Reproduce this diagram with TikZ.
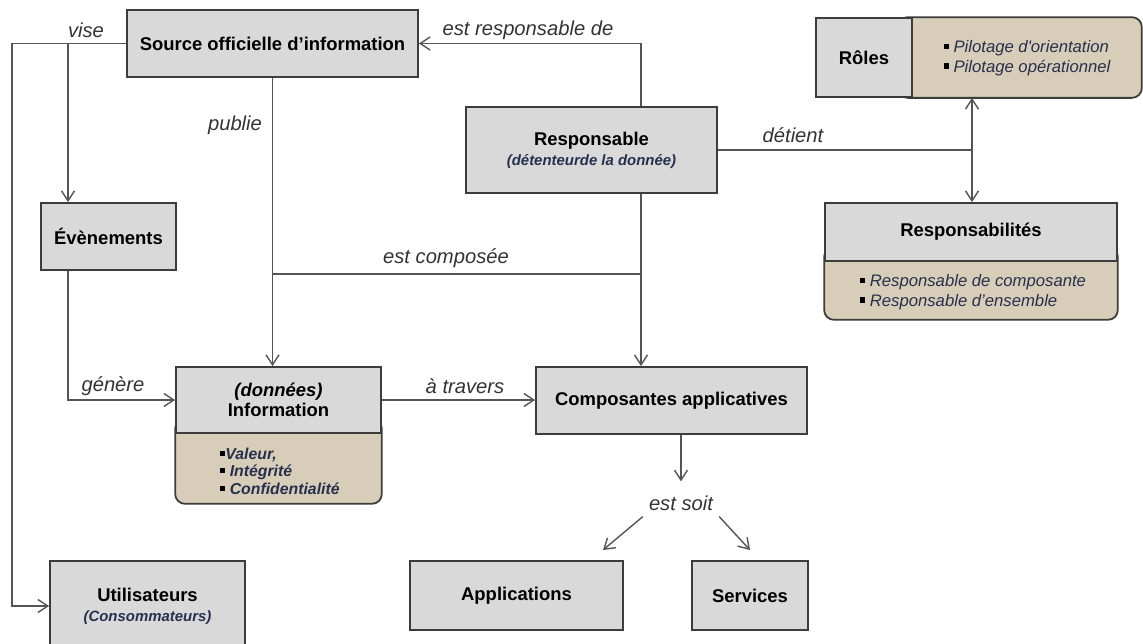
\documentclass[tikz,border=0pt]{standalone}
\usepackage{fontspec}
\setmainfont{Liberation Sans}
\usepackage{xcolor}
\usetikzlibrary{positioning}
\usetikzlibrary{calc}
\usetikzlibrary{backgrounds}
\usetikzlibrary{arrows.meta}

\definecolor{boxgray}{RGB}{217,217,217}
\definecolor{burlap}{RGB}{216,205,184}
\definecolor{edgegray}{RGB}{60,60,60}
\definecolor{linkgray}{RGB}{85,85,85}
\definecolor{inkblue}{RGB}{38,48,78}
\newcommand{\puce}{\textcolor{black}{\rule[0.4ex]{0.6ex}{0.6ex}}}
\newcommand{\souslib}[1]{{\fontsize{8.5}{10}\selectfont\bfseries\itshape\color{inkblue}#1}}

\begin{document}
\begin{tikzpicture}
  [ x=0.02cm, y=-0.02cm,
    box/.style={draw=edgegray, fill=boxgray, line width=1pt, align=center,
      inner sep=1mm, font=\fontsize{10.5}{11.5}\selectfont\bfseries},
    sack/.style={draw=edgegray, fill=burlap, line width=1pt, rounded corners=2mm},
    list/.style={align=left, inner sep=0pt, text=inkblue,
      font=\fontsize{9.5}{11.3}\selectfont\itshape},
    verb/.style={text=black!80, font=\fontsize{11.5}{13}\selectfont\itshape},
    lk/.style={draw=linkgray, line width=0.8pt},
    ld/.style={lk, -{Straight Barb[length=2mm,width=2.6mm]}}
  ]
  \useasboundingbox (0,0) rectangle (1143,643);

  \node (source) at (272.5,43.5) [box, minimum width=5.82cm, minimum height=1.34cm] {Source officielle d’information};
  \node (even)   at (108.5,236.5) [box, minimum width=2.7cm, minimum height=1.34cm] {Évènements};
  \node (resp)   at (591.5,150) [box, minimum width=5.02cm, minimum height=1.72cm] {Responsable\\\souslib{(détenteurde la donnée)}};
  \node (info)   at (278.5,400) [box, minimum width=4.1cm, minimum height=1.32cm] {{\itshape (données)}\\Information};
  \node (comp)   at (671.5,400.5) [box, minimum width=5.42cm, minimum height=1.34cm] {Composantes applicatives};
  \node (roles)  at (864,57.5) [box, minimum width=1.92cm, minimum height=1.58cm] {Rôles};
  \node (respb)  at (971,232) [box, minimum width=5.84cm, minimum height=1.16cm] {Responsabilités};
  \node (appl)   at (516.5,595.5) [box, minimum width=4.26cm, minimum height=1.38cm] {Applications};
  \node (serv)   at (750,595.5) [box, minimum width=2.32cm, minimum height=1.38cm] {Services};
  \node (util)   at (147.5,606) [box, minimum width=3.9cm, minimum height=1.8cm] {Utilisateurs\\\souslib{(Consommateurs)}};

  % lower / right parts of the compound boxes
  \begin{scope}[on background layer]
    \draw[sack] ([yshift=3mm]info.south west) rectangle ([yshift=-1.4cm]info.south east);
    \draw[sack] ([xshift=-3mm]roles.north east) rectangle ([xshift=4.58cm]roles.south east);
    \draw[sack] ([yshift=3mm]respb.south west) rectangle ([yshift=-1.16cm]respb.south east);
  \end{scope}

  \node (infoL)  at (280,471) [list, font=\fontsize{9}{9.9}\selectfont\bfseries\itshape] {\puce Valeur,\\\puce\ Intégrité\\\puce\ Confidentialité};
  \node (rolesL) at (1027,58) [list] {\puce\ Pilotage d\textquotesingle orientation\\\puce\ Pilotage opérationnel};
  \node (respbL) at (973,292) [list] {\puce\ Responsable de composante\\\puce\ Responsable d’ensemble};

  \node (vise)    at (86,30)   [verb] {vise};
  \node (publie)  at (235,125) [verb] {publie};
  \node (estresp) at (528,30)  [verb] {est responsable de};
  \node (detient) at (793,135) [verb] {détient};
  \node (compo)   at (446,258) [verb] {est composée};
  \node (genere)  at (113,386) [verb] {génère};
  \node (travers) at (465,386) [verb] {à travers};
  \node (soit)    at (681,503) [verb] {est soit};

  \coordinate (rail)   at (12,43.5);
  \coordinate (fork)   at (68,43.5);
  \coordinate (pivot)  at (641,274);
  \coordinate (hold)   at (972,150);
  \coordinate (toappl) at (603,550);
  \coordinate (toserv) at (750,550);

  \draw[ld] (source.west) -- (rail) |- (util.west);
  \draw[ld] (fork) -- (fork |- even.north);
  \draw[ld] (fork |- even.south) |- (info.west);
  \draw[ld] (source.south) -- (source.south |- info.north);
  \draw[lk] (source.south |- pivot) -- (pivot);
  \draw[ld] (pivot |- resp.south) -- (pivot |- comp.north);
  \draw[ld] (pivot |- resp.north) |- (source.east);
  \draw[ld] (info.east) -- (info.east -| comp.west);
  \draw[lk] (resp.east) -- (hold);
  \draw[ld] (hold) -- (hold |- roles.south);
  \draw[ld] (hold) -- (hold |- respb.north);
  \draw[ld, shorten >=1.6mm] (soit.north |- comp.south) -- (soit.north);
  \draw[ld] (soit.south west) -- (toappl);
  \draw[ld] (soit.south east) -- (toserv);
\end{tikzpicture}
\end{document}
